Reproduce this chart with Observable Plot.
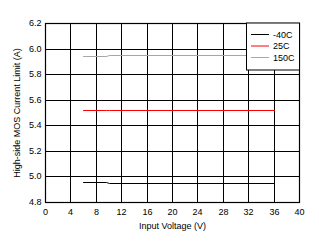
<!DOCTYPE html>
<html><head><meta charset="utf-8">
<script src="https://cdn.jsdelivr.net/npm/d3@7"></script>
<script src="https://cdn.jsdelivr.net/npm/@observablehq/plot@0.6"></script>
<style>body{margin:0;background:#fff}</style>
</head><body><div id="chart"></div>
<script>
const voltage = [6, 9.6, 10, 36];
const seriesNames = ["-40C", "25C", "150C"];
const seriesColors = ["#000000", "#ff0000", "#a6a6a6"];
const valsM40 = [4.953, 4.953, 4.945, 4.945];
const vals25 = [5.516, 5.516, 5.523, 5.523];
const vals150 = [5.945, 5.945, 5.953, 5.953];
const xTicks = [0,4,8,12,16,20,24,28,32,36,40];
const yTicks = [4.8,5,5.2,5.4,5.6,5.8,6,6.2];

const allVals = [valsM40, vals25, vals150];
const data = [];
allVals.forEach((vals, s) => vals.forEach((v, i) => data.push({x: voltage[i], y: v, s: seriesNames[s]})));

const font = "'Liberation Sans', Arial, sans-serif";
const plot = Plot.plot({
  width: 319, height: 243,
  marginLeft: 45, marginRight: 20, marginTop: 23, marginBottom: 41,
  style: {fontFamily: font, fontSize: "9px", color: "#000", background: "#fff"},
  x: {domain: [0, 40], ticks: xTicks, round: true},
  y: {domain: [4.8, 6.2], ticks: yTicks, round: true},
  color: {domain: seriesNames, range: seriesColors},
  marks: [
    Plot.gridX(xTicks, {stroke: "#000", strokeOpacity: 1, strokeWidth: 1}),
    Plot.gridY(yTicks, {stroke: "#000", strokeOpacity: 1, strokeWidth: 1}),
    Plot.line(data, {x: "x", y: "y", z: "s", stroke: "s", strokeWidth: 1}),
    Plot.frame({stroke: "#000", strokeWidth: 1.2}),
    Plot.axisX(xTicks, {tickSize: 0, tickPadding: 6, label: "Input Voltage (V)", labelAnchor: "center", labelArrow: "none", labelOffset: 26}),
    Plot.axisY(yTicks, {tickSize: 0, tickPadding: 4, label: "High-side MOS Current Limit (A)", labelAnchor: "center", labelArrow: "none", labelOffset: 32})
  ]
});
document.getElementById("chart").appendChild(plot);

// legend box
const svg = d3.select(plot);
const lg = svg.append("g").attr("text-anchor", "start");
lg.append("rect").attr("x", 246.5).attr("y", 23).attr("width", 53).attr("height", 47)
  .attr("fill", "#fff").attr("stroke", "#000").attr("stroke-width", 1);
seriesNames.forEach((n, i) => {
  const yy = 34.5 + i * 11.5;
  lg.append("line").attr("x1", 251).attr("x2", 269).attr("y1", yy).attr("y2", yy)
    .attr("stroke", seriesColors[i]).attr("stroke-width", 1);
  lg.append("text").attr("x", 273).attr("y", yy).attr("dy", "0.35em")
    .attr("text-anchor", "start")
    .attr("font-family", font).attr("font-size", 9).attr("fill", "#000").text(n);
});
</script></body></html>
